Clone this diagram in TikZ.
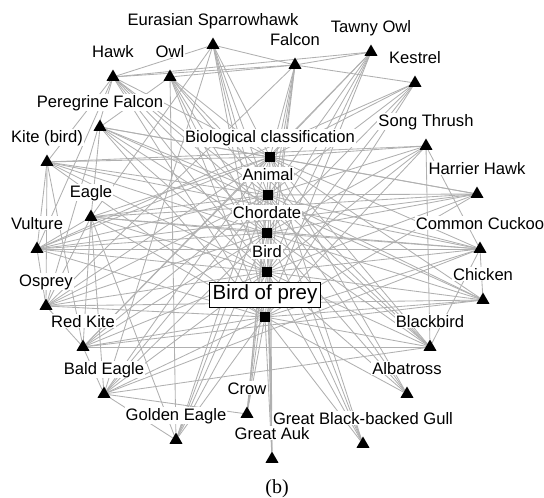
\documentclass[tikz,border=0pt]{standalone}
\usepackage{fontspec}
\setmainfont{Liberation Sans}
\newfontfamily\captionserif{Liberation Serif}
\usetikzlibrary{shapes.geometric,backgrounds}

\tikzset{
  page/.style={x=1pt,y=-1pt},
  tri/.style={regular polygon,regular polygon sides=3,fill=black,inner sep=0pt,minimum size=15pt},
  sq/.style={rectangle,fill=black,inner sep=0pt,minimum size=9.5pt},
  lbl/.style={fill=white,inner sep=1pt,anchor=base,font=\fontsize{16.6}{19}\selectfont},
  link/.style={draw=gray!62,line width=0.85pt},
}

\begin{document}
\begin{tikzpicture}[page]
\useasboundingbox (0,0) rectangle (544,498);

% categories (squares)
\foreach \n/\x/\y in {bio/270/157, animal/268/195, chord/267/233, bird/267/272, prey/265/317}
  \node[sq] (\n) at (\x,\y) {};

% articles (triangles)
\foreach \n/\x/\y in {spar/213/45, hawk/113/77, owl/170/77, falcon/295/65, tawny/371/52,
    kestrel/415/83, pere/100/127, kite/47/162, thrush/426/146, harrier/477/194,
    eagle/91/217, vulture/37/249, cuckoo/480/249, osprey/46/306, chicken/483/300,
    redkite/83/347, blackbird/430/347, bald/104/394, albatross/407/394, crow/247/414,
    golden/176/440, gull/363/444, auk/272/459}
  \node[tri] (\n) at (\x,\y) {};

% links
\begin{scope}[on background layer]
  \foreach \t in {spar,hawk,owl,falcon,tawny,kestrel,pere,kite,thrush,harrier,eagle,vulture,
      cuckoo,osprey,chicken,redkite,blackbird,bald,albatross,crow,golden,gull,auk}
    \foreach \s in {bio,animal,chord,bird,prey}
      \draw[link] (\t) -- (\s);
  \foreach \a/\b in {hawk/spar, hawk/falcon, hawk/tawny, owl/falcon, spar/falcon, falcon/tawny,
      falcon/kestrel, owl/pere, spar/eagle, hawk/kite, hawk/vulture, hawk/osprey,
      thrush/blackbird, thrush/cuckoo, cuckoo/chicken, cuckoo/blackbird, pere/eagle,
      kite/vulture, kite/osprey, kite/redkite, eagle/vulture, eagle/osprey, eagle/redkite,
      eagle/bald, eagle/golden, vulture/osprey, osprey/redkite, redkite/bald, bald/golden,
      vulture/harrier, vulture/cuckoo, osprey/chicken, eagle/harrier, eagle/cuckoo,
      pere/harrier, pere/chicken, kite/thrush, kite/cuckoo, redkite/chicken,
      redkite/blackbird, bald/blackbird, hawk/blackbird, owl/blackbird, bald/cuckoo,
      bald/crow, owl/golden, spar/bald, falcon/osprey, kestrel/vulture, tawny/redkite}
    \draw[link] (\a) -- (\b);
\end{scope}

% labels
\foreach \n/\t in {bio/Biological classification, animal/Animal, chord/Chordate, bird/Bird}
  \node[lbl] (\n-l) at ([yshift=14.5pt]\n.center) {\t};
\foreach \n/\t in {spar/Eurasian Sparrowhawk, hawk/Hawk, owl/Owl, falcon/Falcon,
    tawny/Tawny Owl, kestrel/Kestrel, pere/Peregrine Falcon, kite/Kite (bird),
    thrush/Song Thrush, harrier/Harrier Hawk, eagle/Eagle, vulture/Vulture,
    cuckoo/Common Cuckoo, osprey/Osprey, chicken/Chicken, redkite/Red Kite,
    blackbird/Blackbird, bald/Bald Eagle, albatross/Albatross, crow/Crow,
    golden/Golden Eagle, gull/Great Black-backed Gull, auk/Great Auk}
  \node[lbl] (\n-l) at ([yshift=20pt]\n.center) {\t};
\node[draw=black,fill=white,inner sep=3pt,font=\fontsize{20.5}{23}\selectfont]
  (prey-l) at ([yshift=22.5pt]prey.center) {Bird of prey};

\node[font=\captionserif\fontsize{20}{22}\selectfont] (caption) at (277,489) {(b)};
\end{tikzpicture}
\end{document}
